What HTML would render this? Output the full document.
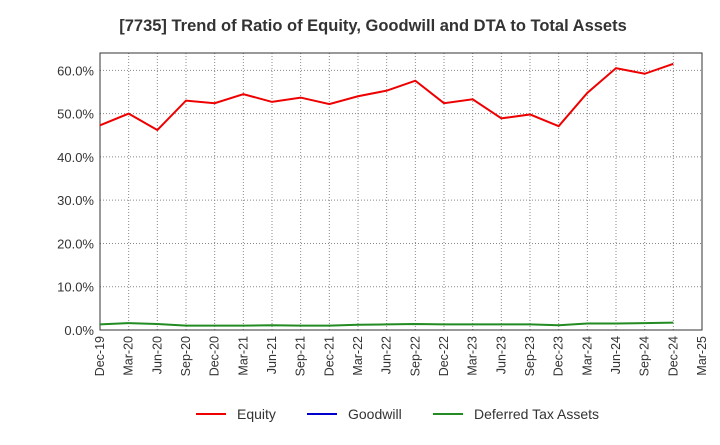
<!DOCTYPE html>
<html><head><meta charset="utf-8"><style>
body{margin:0;background:#fff;font-family:"Liberation Sans",Arial,sans-serif;}
</style></head><body>
<svg id="chart" width="720" height="440" xmlns="http://www.w3.org/2000/svg">
<text x="373" y="31" text-anchor="middle" font-size="16.5" font-weight="bold" fill="#333">[7735]  Trend of Ratio of Equity, Goodwill and DTA to Total Assets</text>
<g id="grid"></g><g id="axes"></g><g id="series"></g>
<g font-size="14" fill="#333">
<line x1="196" y1="414" x2="226" y2="414" stroke="#e00" stroke-width="2"/><text x="237" y="419">Equity</text>
<line x1="307" y1="414" x2="337" y2="414" stroke="#00c" stroke-width="2"/><text x="348" y="419">Goodwill</text>
<line x1="433" y1="414" x2="463" y2="414" stroke="#228b22" stroke-width="2"/><text x="474" y="419">Deferred Tax Assets</text>
</g>
</svg>
<script>
const categories=["Dec-19","Mar-20","Jun-20","Sep-20","Dec-20","Mar-21","Jun-21","Sep-21","Dec-21","Mar-22","Jun-22","Sep-22","Dec-22","Mar-23","Jun-23","Sep-23","Dec-23","Mar-24","Jun-24","Sep-24","Dec-24","Mar-25"];
const equity=[47.3,50.0,46.2,53.0,52.4,54.5,52.7,53.7,52.2,54.0,55.3,57.6,52.4,53.3,48.9,49.8,47.1,54.8,60.5,59.2,61.5];
const goodwill=[];
const dta=[1.3,1.6,1.4,1.0,1.0,1.0,1.1,1.0,1.0,1.2,1.3,1.4,1.3,1.3,1.3,1.3,1.1,1.5,1.5,1.6,1.7];
const yTicks=[0,10,20,30,40,50,60];
const L=100,R=702,T=53,B=330,yMax=64;
const NS="http://www.w3.org/2000/svg";
const xs=i=>L+i*(R-L)/(categories.length-1);
const ys=v=>B-v/yMax*(B-T);
function mk(tag,attrs,parent){const e=document.createElementNS(NS,tag);for(const k in attrs)e.setAttribute(k,attrs[k]);document.getElementById(parent).appendChild(e);return e;}
const frame=mk('rect',{x:L,y:T,width:R-L,height:B-T,fill:'none',stroke:'#333'},'axes');


yTicks.forEach(v=>{
 const g=mk('line',{x1:L,x2:R,y1:ys(v),y2:ys(v),stroke:'#888','stroke-dasharray':'1,2'},'grid');
 
 
 const t=mk('text',{x:L-6,y:ys(v)+5,'text-anchor':'end','font-size':13,fill:'#333'},'axes');
 t.textContent=v.toFixed(1)+'%';
 
 
});
categories.forEach((c,i)=>{
 const g=mk('line',{x1:xs(i),x2:xs(i),y1:T,y2:B,stroke:'#888','stroke-dasharray':'1,2'},'grid');
 
 
 const t=mk('text',{x:xs(i)+4,y:B+6,'text-anchor':'end','font-size':12.5,fill:'#333',transform:`rotate(-90 ${xs(i)+4} ${B+6})`},'axes');
 t.textContent=c;
 
 
});
function line(arr,color,name){
 if(!arr.length)return;
 const p=mk('polyline',{points:arr.map((v,i)=>xs(i)+','+ys(v)).join(' '),fill:'none',stroke:color,'stroke-width':2},'series');
 
 
}
line(dta,'#228b22','dta-line');
line(goodwill,'#00c','goodwill-line');
line(equity,'#e00','equity-line');
</script>
</body></html>
